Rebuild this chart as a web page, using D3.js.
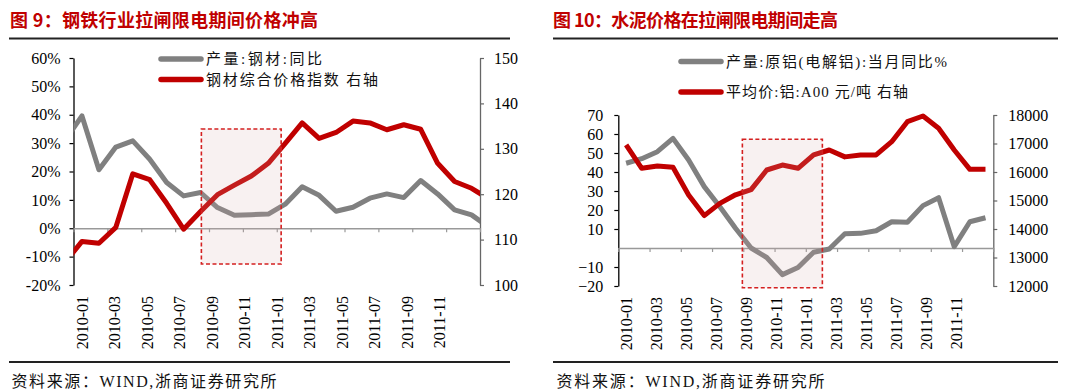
<!DOCTYPE html>
<html><head><meta charset="utf-8">
<script src="https://cdn.jsdelivr.net/npm/d3@7/dist/d3.min.js"></script>
<style>body{margin:0;background:#fff;} svg{display:block}</style>
</head><body>
<svg id="c" width="1080" height="392"></svg>
<script>
// ---------- data ----------
const steelMonths = ["2009-12","2010-01","2010-02","2010-03","2010-04","2010-05","2010-06","2010-07","2010-08","2010-09","2010-10","2010-11","2010-12",
  "2011-01","2011-02","2011-03","2011-04","2011-05","2011-06","2011-07","2011-08","2011-09","2011-10","2011-11","2011-12","2012-01"];
const steelOutputYoY = [31,39.6,20.6,28.6,30.8,24.3,16.1,11.4,12.6,7.3,4.6,4.8,5.0,8.5,14.6,11.6,6.0,7.4,10.6,12.1,10.8,16.8,12.1,6.5,4.7,0.5];
const steelPriceIndex = [105,109.6,109.2,112.7,124.5,123.2,118.0,112.3,116.2,119.9,122.0,124.0,126.8,131.2,135.7,132.3,133.6,136.1,135.7,134.2,135.3,134.3,126.8,122.8,121.3,119];

const alMonths = ["2010-01","2010-02","2010-03","2010-04","2010-05","2010-06","2010-07","2010-08","2010-09","2010-10","2010-11","2010-12",
  "2011-01","2011-02","2011-03","2011-04","2011-05","2011-06","2011-07","2011-08","2011-09","2011-10","2011-11","2011-12"];
const alOutputYoY = [44.6,47.0,50.7,57.7,46.3,32.3,21.7,10.4,0,-5,-14,-10.3,-2.2,-0.5,7.5,7.7,9.1,13.8,13.6,22.3,26.5,0.7,13.8,15.9];
const alPrice = [16950,16130,16210,16165,15193,14470,14900,15200,15380,16070,16245,16130,16600,16772,16530,16600,16600,17063,17765,17965,17533,16772,16094,16094];

const axisLabels = ["2010-01","2010-03","2010-05","2010-07","2010-09","2010-11","2011-01","2011-03","2011-05","2011-07","2011-09","2011-11"];
const steelLeftTicks = [-20,-10,0,10,20,30,40,50,60];
const steelRightTicks = [100,110,120,130,140,150];
const alLeftTicks = [-20,-10,10,20,30,40,50,60,70];
const alRightTicks = [12000,13000,14000,15000,16000,17000,18000];

const titles = ["图\u00a09：钢铁行业拉闸限电期间价格冲高","图\u00a010：水泥价格在拉闸限电期间走高"];
const steelLegend = ["产量:钢材:同比","钢材综合价格指数 右轴"];
const alLegend = ["产量:原铝(电解铝):当月同比%","平均价:铝:A00 元/吨 右轴"];
const source = "资料来源：WIND,浙商证券研究所";
// highlighted period (month index from 2010-01, left-axis values)
const steelBoxMonths = [7.05, 11.76], steelBoxValues = [35, -12.6];
const alBoxMonths = [7.44, 12.56], alBoxValues = [57.2, -20.9];

// ---------- drawing ----------
const svg = d3.select("#c");
const RED = "#c00000", GRAY = "#808080";
const SERIF = "'Liberation Serif','Times New Roman',serif";
const CJK = "'Liberation Serif','Noto Sans CJK SC',serif";

function fitText(sel, w){
  return sel.attr("textLength", w).attr("lengthAdjust","spacing");
}

function panel(o){
  const g = svg.append("g");
  // title
  fitText(g.append("text").attr("x",o.titleX).attr("y",26.5).text(o.title)
    .attr("fill",RED).attr("font-family","'Noto Sans CJK SC',sans-serif")
    .attr("font-weight","bold").attr("font-size",18), o.titleW);
  g.append("line").attr("x1",o.ruleX0).attr("x2",o.ruleX1).attr("y1",38.5).attr("y2",38.5)
    .attr("stroke","#222").attr("stroke-width",2);
  g.append("line").attr("x1",o.ruleX0).attr("x2",o.ruleX1).attr("y1",362).attr("y2",362)
    .attr("stroke","#222").attr("stroke-width",2);
  fitText(g.append("text").attr("x",o.srcX).attr("y",387).text(source)
    .attr("font-family",CJK).attr("font-size",16).attr("fill","#111"), o.srcW);

  const x = d3.scaleLinear().domain([-0.5,23.5]).range([o.x0,o.x1]);
  const xl = d3.scaleLinear().domain([-0.5,24.5]).range([o.x0,o.x1]);
  const yL = d3.scaleLinear().domain(o.leftDomain).range([o.y1,o.y0]);
  const yR = d3.scaleLinear().domain(o.rightDomain).range([o.y1,o.y0]);

  // left axis
  const la = g.append("g").attr("transform",`translate(${o.x0},0)`)
    .call(d3.axisLeft(yL).tickValues(o.leftTicks).tickFormat(o.leftFmt).tickSize(4).tickSizeOuter(0));
  la.select(".domain").attr("stroke","#000").attr("stroke-width",1.3);
  la.selectAll(".tick line").attr("stroke","#000").attr("stroke-width",1.2);
  la.selectAll("text").attr("font-family",SERIF).attr("font-size",16).attr("fill","#000")
    .attr("x",-o.leftLabelGap);
  // right axis
  const ra = g.append("g").attr("transform",`translate(${o.x1},0)`)
    .call(d3.axisRight(yR).tickValues(o.rightTicks).tickSize(4).tickSizeOuter(0).tickFormat(d3.format("d")));
  ra.select(".domain").attr("stroke","#666").attr("stroke-width",1.3);
  ra.selectAll(".tick line").attr("stroke","#666").attr("stroke-width",1.2);
  ra.selectAll("text").attr("font-family",SERIF).attr("font-size",16).attr("fill","#000")
    .attr("x",o.rightLabelGap);
  // x axis line at zero with boundary ticks
  const tickPos = d3.range(0,13).map(k=>-0.5+2*k);
  const xa = g.append("g").attr("transform",`translate(0,${yL(0)})`)
    .call(d3.axisBottom(x).tickValues(tickPos).tickFormat("").tickSize(4).tickSizeOuter(0));
  xa.select(".domain").attr("stroke","#999").attr("stroke-width",1.5);
  xa.selectAll(".tick line").attr("stroke","#999").attr("stroke-width",1.2);
  // category labels at the bottom
  const lab = g.append("g").attr("transform",`translate(0,${o.y1})`)
    .call(d3.axisBottom(xl).tickValues(axisLabels.map((d,i)=>2*i)).tickFormat((d,i)=>axisLabels[i]).tickSize(0));
  lab.select(".domain").remove();
  lab.selectAll("text").attr("transform","rotate(-90)").attr("x",-11).attr("y",0).attr("dy","0.35em")
    .attr("text-anchor","end").attr("font-family",SERIF).attr("font-size",16).attr("fill","#000");

  // clip
  const cid = "clip"+o.id;
  g.append("clipPath").attr("id",cid).append("rect")
    .attr("x",o.x0).attr("y",o.y0-5).attr("width",o.x1-o.x0).attr("height",o.y1-o.y0+10);
  const plot = g.append("g").attr("clip-path",`url(#${cid})`);
  const lineL = d3.line().x((d,i)=>x(i+o.offset)).y(d=>yL(d));
  const lineR = d3.line().x((d,i)=>x(i+o.offset)).y(d=>yR(d));
  plot.append("path").attr("d",lineL(o.s1)).attr("fill","none").attr("stroke",GRAY)
    .attr("stroke-width",5).attr("stroke-linejoin","round");
  plot.append("path").attr("d",lineR(o.s2)).attr("fill","none").attr("stroke",RED)
    .attr("stroke-width",5).attr("stroke-linejoin","round");

  // highlight box
  g.append("rect").attr("x",x(o.boxM[0])).attr("width",x(o.boxM[1])-x(o.boxM[0]))
    .attr("y",yL(o.boxV[0])).attr("height",yL(o.boxV[1])-yL(o.boxV[0]))
    .attr("fill","rgb(215,170,170)").attr("fill-opacity",0.17)
    .attr("stroke","#d42020").attr("stroke-width",1.6).attr("stroke-dasharray","4,2.5");

  // legend
  o.legend.forEach((t,i)=>{
    const ly = o.legY[i];
    g.append("line").attr("x1",o.legX).attr("x2",o.legX+40).attr("y1",ly).attr("y2",ly)
      .attr("stroke",i===0?GRAY:RED).attr("stroke-width",5.5).attr("stroke-linecap","round");
    fitText(g.append("text").attr("x",o.legX+45).attr("y",ly).attr("dy","0.35em").text(t)
      .attr("font-family",CJK).attr("font-size",15).attr("fill","#111"), o.legW[i]);
  });
}

panel({id:"a",title:titles[0],titleX:10,titleW:308,ruleX0:9,ruleX1:510,srcX:11.5,srcW:265,
  x0:73.5,x1:480,y0:58,y1:285,leftDomain:[-20,60],rightDomain:[100,150],
  leftTicks:steelLeftTicks,rightTicks:steelRightTicks,leftFmt:d=>d+"%",
  leftLabelGap:13,rightLabelGap:14,
  s1:steelOutputYoY,s2:steelPriceIndex,offset:-1,
  boxM:steelBoxMonths,boxV:steelBoxValues,
  legend:steelLegend,legX:161,legY:[59,79.5],legW:[116,172]});

panel({id:"b",title:titles[1],titleX:553,titleW:285,ruleX0:553,ruleX1:1058,srcX:556.5,srcW:268,
  x0:618.3,x1:993.3,y0:115,y1:286,leftDomain:[-20,70],rightDomain:[12000,18000],
  leftTicks:alLeftTicks,rightTicks:alRightTicks,leftFmt:d3.format("d"),
  leftLabelGap:15,rightLabelGap:15,
  s1:alOutputYoY,s2:alPrice,offset:0,
  boxM:alBoxMonths,boxV:alBoxValues,
  legend:alLegend,legX:681,legY:[61.5,92],legW:[221,182]});
</script>
</body></html>
